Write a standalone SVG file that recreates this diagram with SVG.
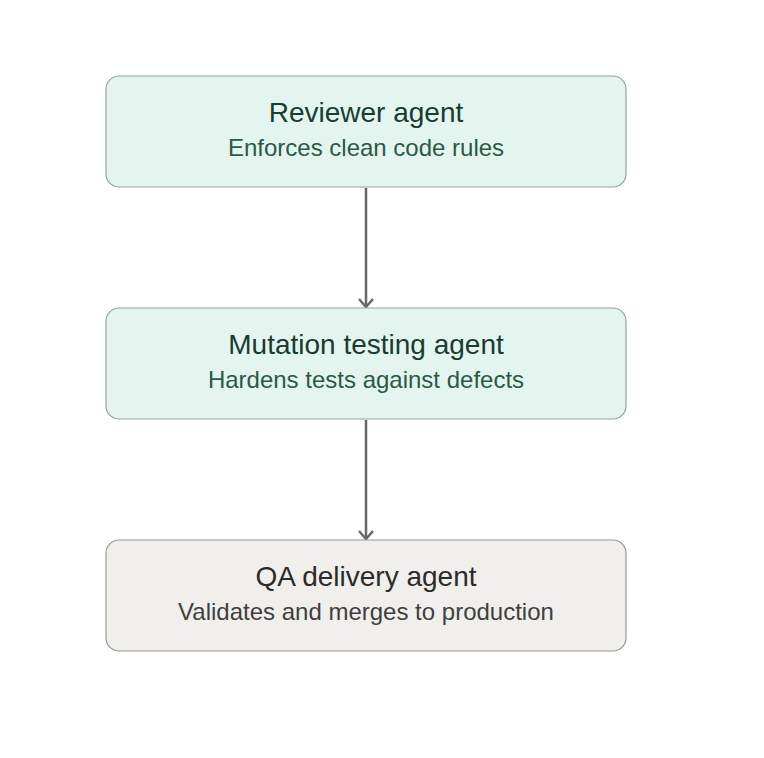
<svg xmlns="http://www.w3.org/2000/svg" width="764" height="758" viewBox="0 0 764 758">
<style>
.g rect{fill:#e4f5ef;stroke:#8aaa9c;stroke-width:1.2}
.n rect{fill:#f0efeb;stroke:#999893;stroke-width:1.2}
text{font-family:"Liberation Sans",Arial,sans-serif;text-anchor:middle}
.g .t{font-size:28px;fill:#173d31}
.g .s{font-size:24px;fill:#2a5a45}
.n .t{font-size:28px;fill:#2b2b2b}
.n .s{font-size:24px;fill:#3f3f3f}
</style>
<defs>
<marker id="ah" viewBox="0 0 12 16" refX="11" refY="8" markerWidth="12" markerHeight="16" markerUnits="userSpaceOnUse" orient="auto">
<path d="M3 1 L11 8 L3 15" fill="none" stroke="#666" stroke-width="2.4"/>
</marker>
</defs>
<rect width="764" height="758" fill="#fff"/>
<g id="connectors" stroke="#666" stroke-width="2.5" fill="none">
<line x1="366" y1="188" x2="366" y2="307" marker-end="url(#ah)"/>
<line x1="366" y1="420" x2="366" y2="539" marker-end="url(#ah)"/>
</g>
<g id="reviewer" class="g">
<rect x="106" y="76" width="520" height="111" rx="13"/>
<text class="t" x="366" y="122">Reviewer agent</text>
<text class="s" x="366" y="156">Enforces clean code rules</text>
</g>
<g id="mutation" class="g">
<rect x="106" y="308" width="520" height="111" rx="13"/>
<text class="t" x="366" y="354">Mutation testing agent</text>
<text class="s" x="366" y="388">Hardens tests against defects</text>
</g>
<g id="qa" class="n">
<rect x="106" y="540" width="520" height="111" rx="13"/>
<text class="t" x="366" y="586">QA delivery agent</text>
<text class="s" x="366" y="620">Validates and merges to production</text>
</g>
</svg>
